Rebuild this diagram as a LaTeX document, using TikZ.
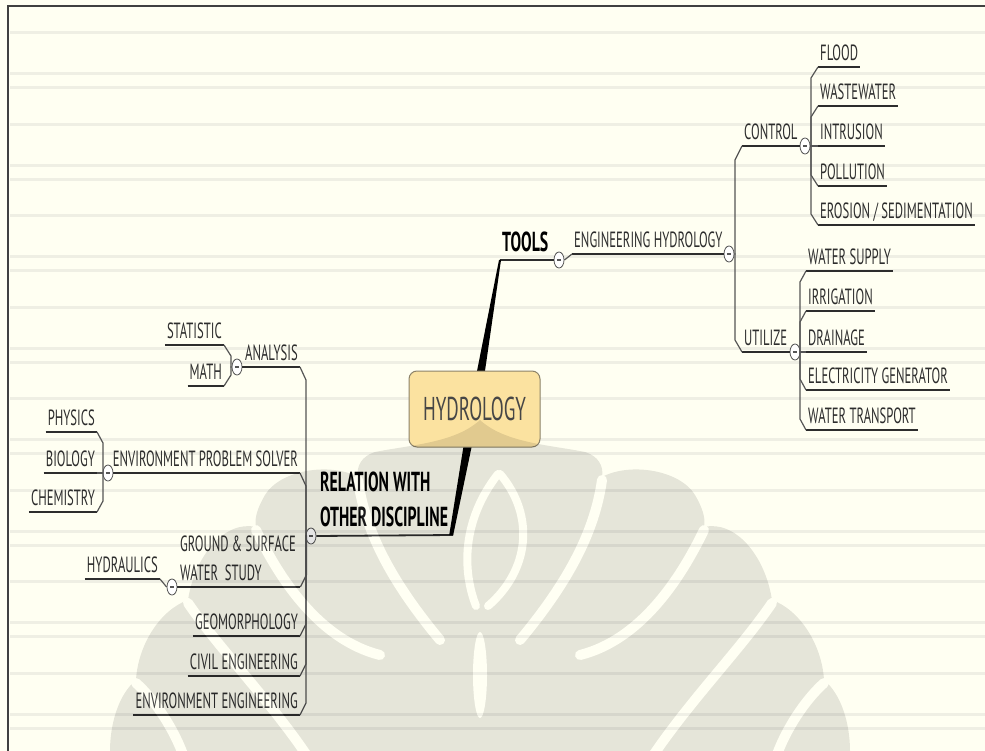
\documentclass[tikz,border=0pt]{standalone}
\usepackage{fontspec}
\setmainfont{PT Sans}[FakeStretch=0.575]
\usetikzlibrary{shapes.geometric}

\definecolor{paper}{RGB}{255,255,242}
\definecolor{rule}{RGB}{239,239,228}
\definecolor{ink}{RGB}{45,45,45}
\definecolor{wire}{RGB}{85,85,85}
\definecolor{central}{RGB}{251,226,160}
\definecolor{centralrim}{RGB}{140,130,105}

\begin{document}
\begin{tikzpicture}[x=1pt,y=-1pt,
    topic/.style={font=\fontsize{22}{29}\selectfont, text=ink,
      inner xsep=2pt, inner ysep=6pt},
    maintopic/.style={font=\fontsize{27.5}{35}\selectfont\bfseries, text=black,
      inner xsep=2pt, inner ysep=8pt},
    hub/.style={rectangle, rounded corners=8pt, fill=central, draw=centralrim,
      line width=1pt, minimum width=131pt, minimum height=76pt,
      font=\fontsize{33}{33}\selectfont, text={rgb,255:red,70;green,70;blue,70}},
    fold/.style={ellipse, draw=wire, fill=white, line width=0.8pt,
      minimum width=10pt, minimum height=16pt, inner sep=0pt,
      path picture={\draw[wire, line width=1.3pt]
        ([xshift=-2.2pt]path picture bounding box.center) --
        ([xshift=2.2pt]path picture bounding box.center);}},
    uline/.style={draw=ink, line width=1.8pt},
    conn/.style={draw=wire, line width=1.2pt},
    cut/.style={draw=white, line width=10pt, line cap=round}]
  \useasboundingbox (0,0) rectangle (985,751);
  % paper
  \fill[paper] (0,0) rectangle (985,751);
  \foreach \k in {0,...,7}
    \foreach \dy in {0,41,55}
      \draw[rule, line width=3pt] (10,33+91.45*\k+\dy) -- (985,33+91.45*\k+\dy);
  \draw[black!75, line width=2pt] (8,751) -- (8,6) -- (985,6);

  % tools side
  \node[maintopic, anchor=south west] (tools) at (500,260) {TOOLS};
  \node[fold] (f-tools) at (559,260) {};
  \node[topic, anchor=south west] (eng) at (572,254) {ENGINEERING HYDROLOGY};
  \node[fold] (f-eng) at (729,254) {};
  \node[topic, anchor=south west] (control) at (742,146) {CONTROL};
  \node[fold] (f-control) at (805,146) {};
  \node[topic, anchor=south west] (utilize) at (742,352) {UTILIZE};
  \node[fold] (f-utilize) at (795,352) {};

  \node[topic, anchor=south west] (flood) at (818,67) {FLOOD};
  \node[topic, anchor=south west] (wastewater) at (818,106) {WASTEWATER};
  \node[topic, anchor=south west] (intrusion) at (818,146) {INTRUSION};
  \node[topic, anchor=south west] (pollution) at (818,186) {POLLUTION};
  \node[topic, anchor=south west, text depth=0pt] (erosion) at (818,225) {EROSION / SEDIMENTATION};

  \node[topic, anchor=south west] (watersupply) at (806,271) {WATER SUPPLY};
  \node[topic, anchor=south west] (irrigation) at (806,311) {IRRIGATION};
  \node[topic, anchor=south west] (drainage) at (806,352) {DRAINAGE};
  \node[topic, anchor=south west] (electricity) at (806,390) {ELECTRICITY GENERATOR};
  \node[topic, anchor=south west] (watertransport) at (806,430) {WATER TRANSPORT};

  % relation side
  \node[maintopic, anchor=south west, align=left] (relation) at (318,535)
    {RELATION WITH\\OTHER DISCIPLINE};
  \node[fold] (f-rel) at (311,536) {};
  \node[topic, anchor=south east] (analysis) at (300,367) {ANALYSIS};
  \node[fold] (f-analysis) at (237,367) {};
  \node[topic, anchor=south east] (envsolver) at (300,473) {ENVIRONMENT PROBLEM SOLVER};
  \node[fold] (f-env) at (108,473) {};
  \node[topic, anchor=south west, text width=118pt, align=flush left] (ground) at (178,587)
    {GROUND \& SURFACE\\WATER\ \ STUDY};
  \node[fold] (f-ground) at (172,587) {};
  \node[topic, anchor=south east] (geomorph) at (300,636) {GEOMORPHOLOGY};
  \node[topic, anchor=south east] (civil) at (300,676) {CIVIL ENGINEERING};
  \node[topic, anchor=south east] (enveng) at (300,715) {ENVIRONMENT ENGINEERING};

  \node[topic, anchor=south east] (statistic) at (224,345) {STATISTIC};
  \node[topic, anchor=south east] (math) at (224,386) {MATH};
  \node[topic, anchor=south east] (physics) at (97,432) {PHYSICS};
  \node[topic, anchor=south east] (biology) at (97,473) {BIOLOGY};
  \node[topic, anchor=south east] (chemistry) at (97,512) {CHEMISTRY};
  \node[topic, anchor=south east] (hydraulics) at (160,579) {HYDRAULICS};

  % underlines
  \draw[uline] (tools.south west) -- (f-tools.west);
  \draw[uline] (eng.south west) -- (f-eng.west);
  \draw[uline] (control.south west) -- (f-control.west);
  \draw[uline] (utilize.south west) -- (f-utilize.west);
  \draw[uline] (f-rel.east) -- ([xshift=3pt]relation.south east);
  \draw[uline] (f-analysis.east) -- (analysis.south east);
  \draw[uline] (f-env.east) -- (envsolver.south east);
  \draw[uline] (f-ground.east) -- (ground.south east);
  \foreach \leaf in {flood,wastewater,intrusion,pollution,erosion,
      watersupply,irrigation,drainage,electricity,watertransport,
      geomorph,civil,enveng,statistic,math,physics,biology,chemistry,hydraulics}
    \draw[uline] (\leaf.south west) -- (\leaf.south east);

  % connectors
  \draw[conn] (f-tools.east) -- (eng.south west);
  \draw[conn] (f-eng.east) -| ([xshift=-7pt,yshift=-14pt]control.south west) -- (control.south west);
  \draw[conn] (f-eng.east) -| ([xshift=-7pt,yshift=12pt]utilize.south west) -- (utilize.south west);
  \foreach \leaf in {flood,wastewater}
    \draw[conn] (f-control.east) -| ([xshift=-7pt,yshift=-11pt]\leaf.south west) -- (\leaf.south west);
  \draw[conn] (f-control.east) -- (intrusion.south west);
  \foreach \leaf in {pollution,erosion}
    \draw[conn] (f-control.east) -| ([xshift=-7pt,yshift=11pt]\leaf.south west) -- (\leaf.south west);
  \foreach \leaf in {watersupply,irrigation}
    \draw[conn] (f-utilize.east) -| ([xshift=-6pt,yshift=-11pt]\leaf.south west) -- (\leaf.south west);
  \draw[conn] (f-utilize.east) -- (drainage.south west);
  \foreach \leaf in {electricity,watertransport}
    \draw[conn] (f-utilize.east) -| ([xshift=-6pt,yshift=11pt]\leaf.south west) -- (\leaf.south west);

  \foreach \leaf in {analysis,envsolver}
    \draw[conn] (f-rel.west) -| ([xshift=6pt,yshift=-13pt]\leaf.south east) -- (\leaf.south east);
  \foreach \leaf in {ground,geomorph,civil,enveng}
    \draw[conn] (f-rel.west) -| ([xshift=6pt,yshift=12pt]\leaf.south east) -- (\leaf.south east);
  \draw[conn] (f-analysis.west) -| ([xshift=7pt,yshift=-11pt]statistic.south east) -- (statistic.south east);
  \draw[conn] (f-analysis.west) -| ([xshift=7pt,yshift=11pt]math.south east) -- (math.south east);
  \draw[conn] (f-env.west) -| ([xshift=6pt,yshift=-11pt]physics.south east) -- (physics.south east);
  \draw[conn] (f-env.west) -- (biology.south east);
  \draw[conn] (f-env.west) -| ([xshift=6pt,yshift=11pt]chemistry.south east) -- (chemistry.south east);
  \draw[conn] (f-ground.west) -- (hydraulics.south east);

  % central topic
  \coordinate (c) at (474.5,409);
  \fill[black] ([xshift=-5pt]c) -- ([xshift=-1pt]tools.south west)
    -- ([xshift=1pt]tools.south west) -- ([xshift=5pt]c) -- cycle;
  \fill[black] ([xshift=-5pt]c) -- ([xshift=-1pt]relation.south east)
    -- ([xshift=3pt]relation.south east) -- ([xshift=5pt]c) -- cycle;
  \node[hub] (hydrology) at (c) {HYDROLOGY};

  % watermark
  \begin{scope}[transparency group, opacity=0.1]
    \foreach \s in {1,-1}{
      \begin{scope}[xshift=480pt, xscale=\s]
        \fill[black] (0,420) .. controls (25,443) and (70,445) .. (105,452)
          .. controls (118,456) and (124,466) .. (122,477)
          .. controls (150,462) and (200,470) .. (215,495)
          .. controls (222,507) and (226,518) .. (224,527)
          .. controls (255,520) and (285,555) .. (292,600)
          .. controls (320,610) and (342,645) .. (344,680)
          .. controls (362,695) and (370,725) .. (370,751)
          -- (0,751) -- cycle;
        \draw[cut] (122,480) .. controls (115,530) and (90,580) .. (40,640);
        \draw[cut] (224,530) .. controls (200,580) and (160,640) .. (100,655);
        \draw[cut] (292,603) .. controls (260,650) and (210,700) .. (170,760);
        \draw[cut] (344,683) .. controls (325,700) and (305,730) .. (295,760);
      \end{scope}
    }
    \draw[cut, line width=8pt] (498,474) .. controls (462,520) and (462,570) .. (476,606);
    \draw[cut, line width=8pt] (500,474) .. controls (535,515) and (530,570) .. (488,606);
    \fill[white] (480,675) ellipse [x radius=7, y radius=43];
  \end{scope}
\end{tikzpicture}
\end{document}
